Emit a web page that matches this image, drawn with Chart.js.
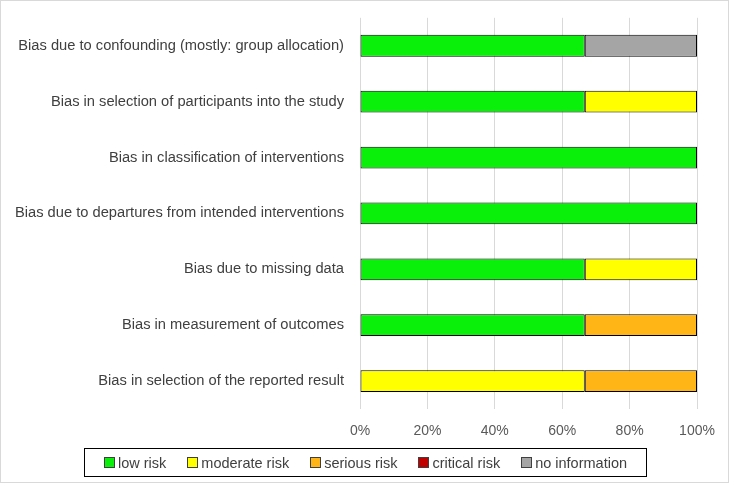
<!DOCTYPE html>
<html>
<head>
<meta charset="utf-8">
<script src="https://cdn.jsdelivr.net/npm/chart.js@4.4.0/dist/chart.umd.min.js"></script>
<style>
  html, body { margin: 0; padding: 0; background: #fff; }
  #wrap { position: relative; width: 729px; height: 483px; box-sizing: border-box; border: 1px solid #d9d9d9; }
  #riskChart { position: absolute; left: 0; top: 0; }
  #legend {
    position: absolute; left: 83px; top: 447px; width: 563px; height: 29px;
    box-sizing: border-box; border: 1px solid #000;
    display: flex; align-items: center; justify-content: center; gap: 21px;
    font-family: "Liberation Sans", Arial, sans-serif; font-size: 14.5px; color: #404040;
  }
  .item { display: flex; align-items: center; gap: 3px; }
  .sw { width: 9px; height: 9px; border: 1px solid #404040; display: inline-block; }
</style>
</head>
<body>
<div id="wrap">
  <canvas id="riskChart" width="729" height="483"></canvas>
  <div id="legend"></div>
</div>
<script>
const categories = [
  "Bias due to confounding (mostly: group allocation)",
  "Bias in selection of participants into the study",
  "Bias in classification of interventions",
  "Bias due to departures from intended interventions",
  "Bias due to missing data",
  "Bias in measurement of outcomes",
  "Bias in selection of the reported result"
];

// percent of studies per judgement
const lowRisk      = [66.7, 66.7, 100, 100, 66.7, 66.7, 0];
const moderateRisk = [0, 33.3, 0, 0, 33.3, 0, 66.7];
const seriousRisk  = [0, 0, 0, 0, 0, 33.3, 33.3];
const criticalRisk = [0, 0, 0, 0, 0, 0, 0];
const noInfo       = [33.3, 0, 0, 0, 0, 0, 0];

const xTicks = [0, 20, 40, 60, 80, 100];

const series = [
  { label: "low risk", data: lowRisk, color: "#0af00a" },
  { label: "moderate risk", data: moderateRisk, color: "#ffff00" },
  { label: "serious risk", data: seriousRisk, color: "#ffb515" },
  { label: "critical risk", data: criticalRisk, color: "#c00000" },
  { label: "no information", data: noInfo, color: "#a5a5a5" }
];

const ctx = document.getElementById("riskChart").getContext("2d");

new Chart(ctx, {
  type: "bar",
  data: {
    labels: categories,
    datasets: series.map((s) => ({
      label: s.label,
      data: s.data,
      backgroundColor: s.color,
      borderColor: "#000",
      borderWidth: (c) => (c.raw ? 1 : 0),
      borderSkipped: false,
      barPercentage: 0.39,
      categoryPercentage: 1.0,
    })),
  },
  options: {
    indexAxis: "y",
    responsive: false,
    animation: false,
    layout: { padding: { left: 0, right: 33, top: 3, bottom: 45 } },
    plugins: {
      legend: { display: false },
      tooltip: { enabled: false },
    },
    scales: {
      x: {
        stacked: true,
        min: 0,
        max: 100,
        afterBuildTicks: (scale) => {
          scale.ticks = xTicks.map((v) => ({ value: v }));
        },
        afterFit: (scale) => { scale.height = 30; },
        grid: { color: "#d9d9d9", drawTicks: false },
        border: { display: false },
        ticks: {
          padding: 14,
          color: "#595959",
          font: { family: "Liberation Sans", size: 14 },
          callback: (v) => v + "%",
        },
      },
      y: {
        stacked: true,
        afterFit: (scale) => { scale.width = 359; },
        grid: { display: false },
        border: { display: false },
        ticks: {
          padding: 8,
          color: "#404040",
          font: { family: "Liberation Sans", size: 14.7 },
        },
      },
    },
  },
});

// legend drawn as html so it can have the framed box
const legendDiv = document.getElementById("legend");
legendDiv.innerHTML = series
  .map((s) => `<span class="item"><span class="sw" style="background:${s.color}"></span>${s.label}</span>`)
  .join("");
</script>
</body>
</html>
